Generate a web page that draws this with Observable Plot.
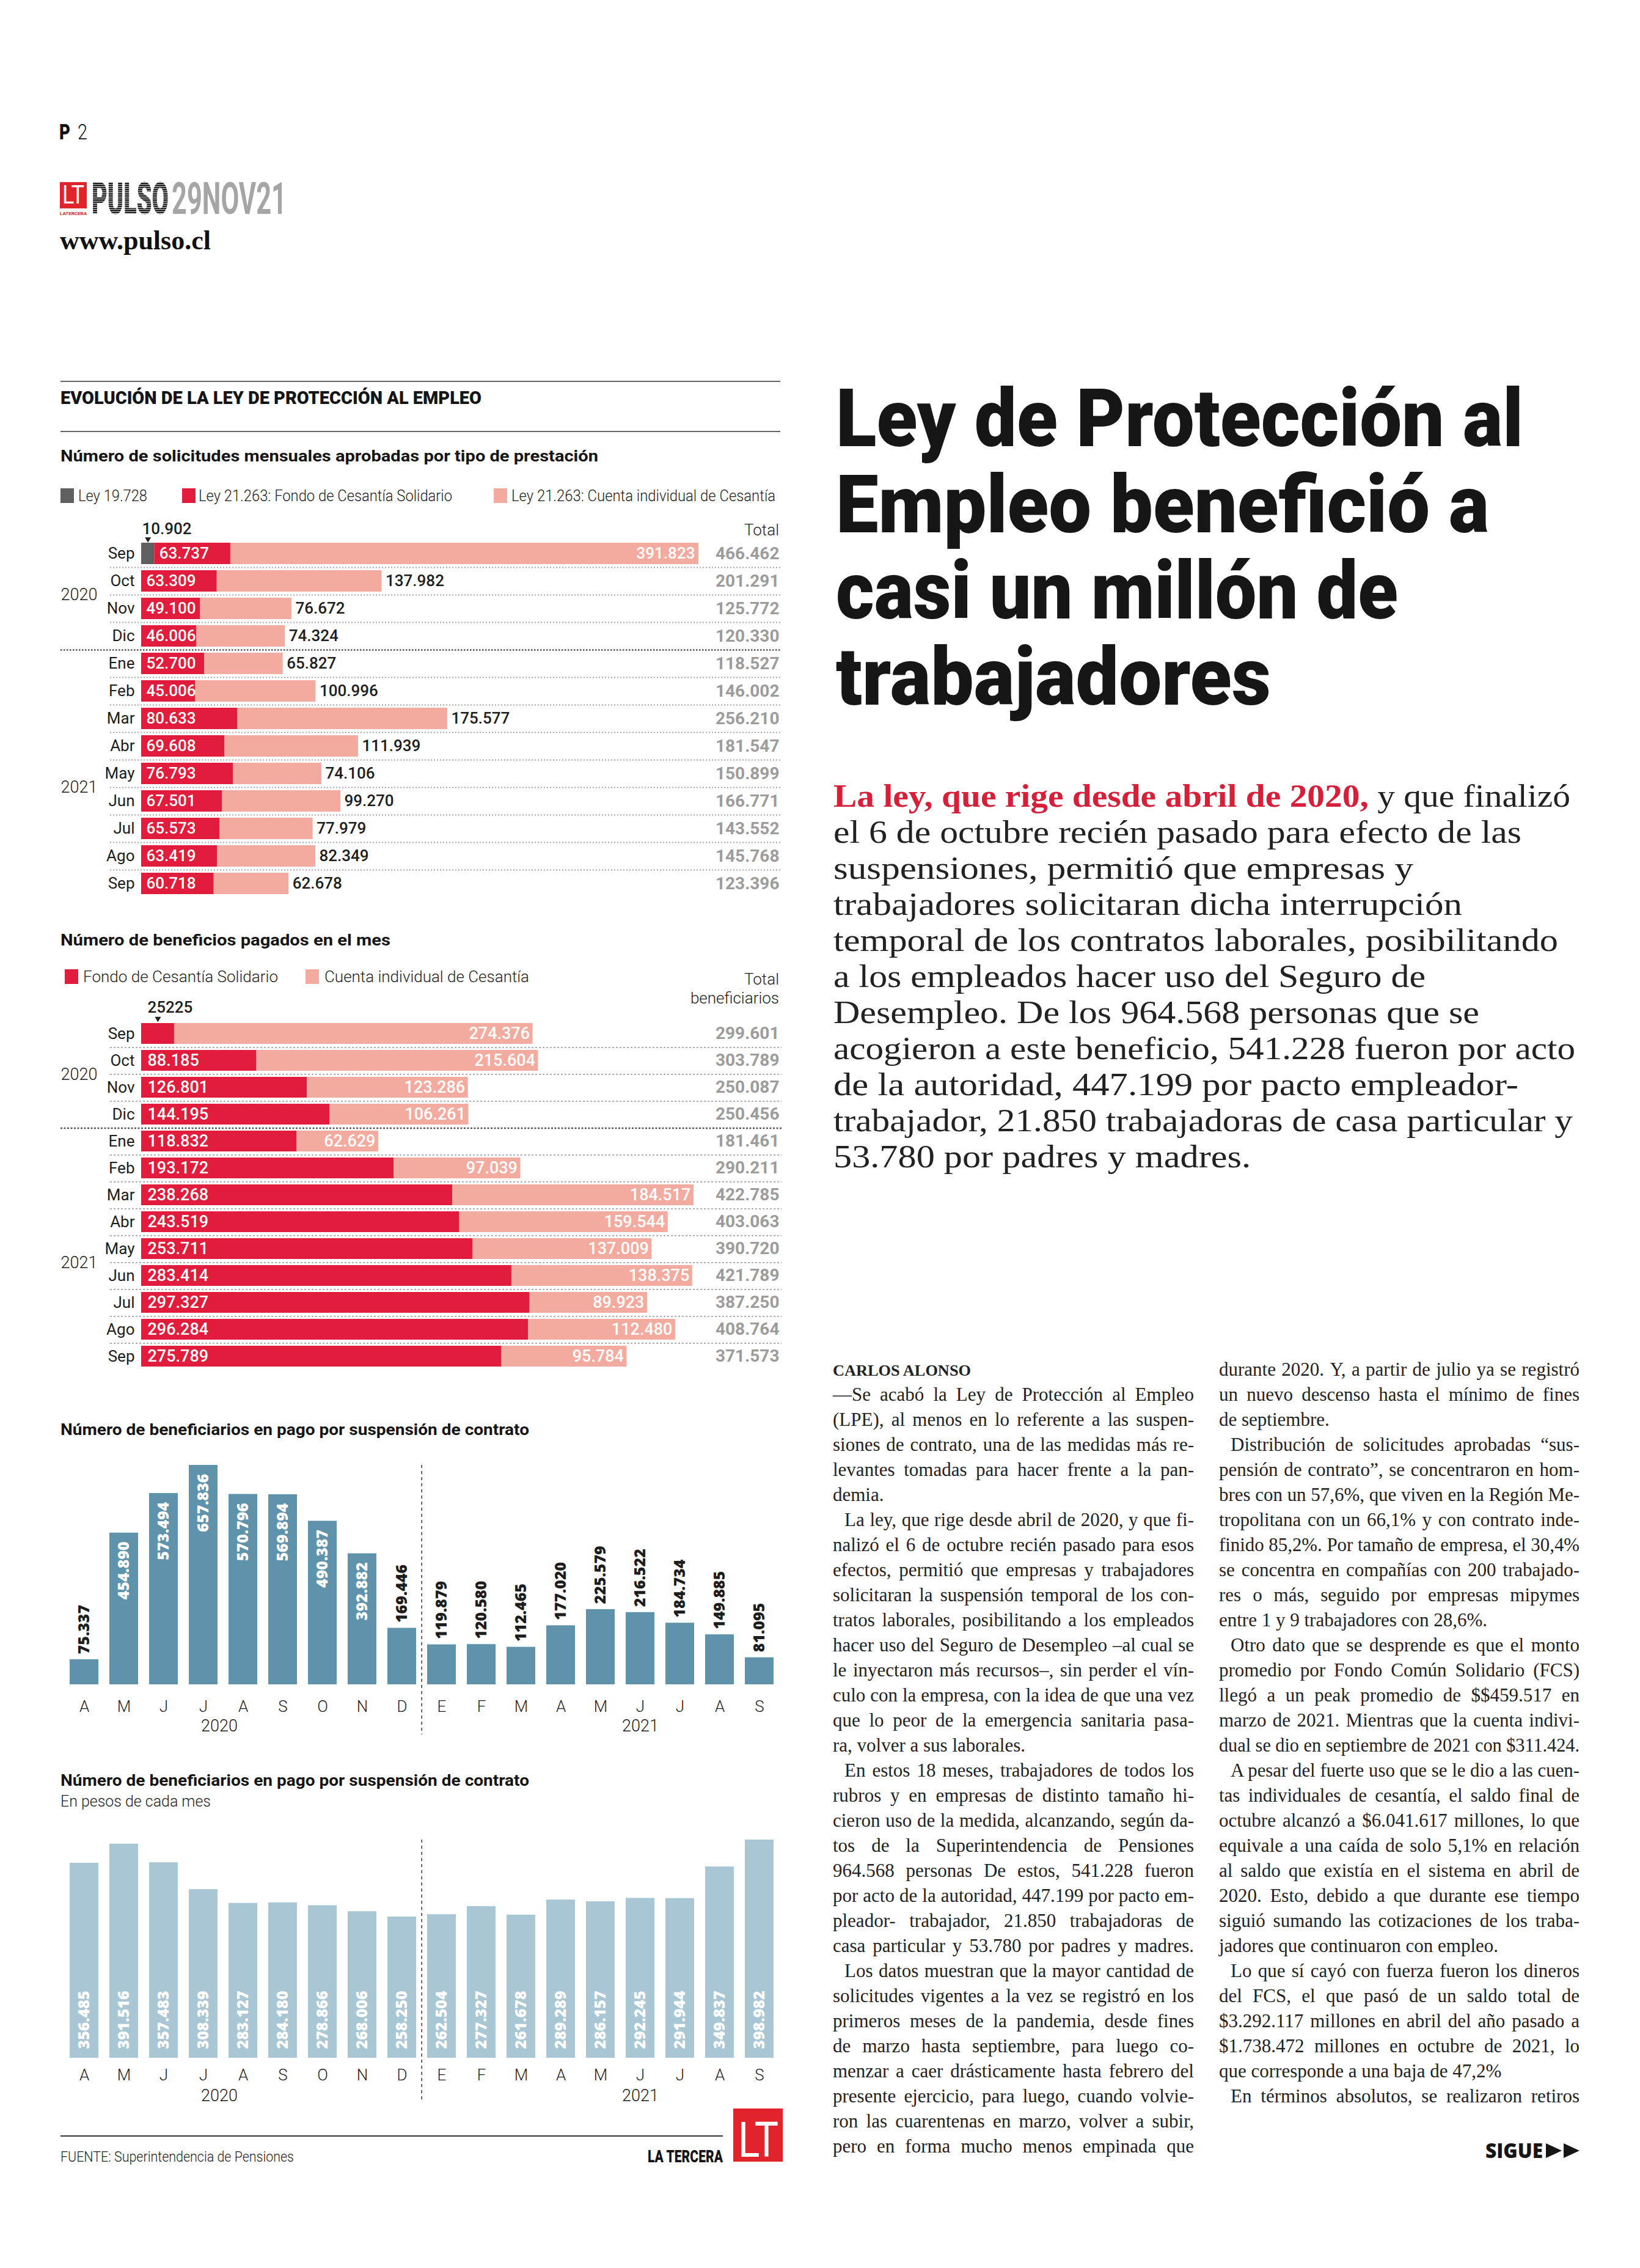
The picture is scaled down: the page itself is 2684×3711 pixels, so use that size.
<!DOCTYPE html>
<html lang="es">
<head>
<meta charset="utf-8">
<title>Ley de Protección al Empleo</title>
<script src="https://cdn.jsdelivr.net/npm/d3@7"></script>
<script src="https://cdn.jsdelivr.net/npm/@observablehq/plot@0.6"></script>
<style>
  html, body { margin: 0; padding: 0; background: #fff; }
  #page { position: relative; width: 2684px; height: 3711px; overflow: hidden; background: #fff; }
  #deco { position: absolute; left: 0; top: 0; }
  .chart { position: absolute; }
  .chart svg { overflow: visible; display: block; }
</style>
</head>
<body>
<div id="page">
  <svg id="deco" width="2684" height="3711" xmlns="http://www.w3.org/2000/svg"></svg>
</div>
<script>
// ===================== DATA =====================
// Chart A: solicitudes mensuales aprobadas por tipo de prestación
const monthsA = ["Sep","Oct","Nov","Dic","Ene","Feb","Mar","Abr","May","Jun","Jul","Ago","Sep"];
const yearsA  = ["2020","2020","2020","2020","2021","2021","2021","2021","2021","2021","2021","2021","2021"];
const seriesA = ["Ley 19.728", "Ley 21.263: Fondo de Cesantía Solidario", "Ley 21.263: Cuenta individual de Cesantía"];
const ley19728          = [10902, 0, 0, 0, 0, 0, 0, 0, 0, 0, 0, 0, 0];
const fondoSolicitudes  = [63737, 63309, 49100, 46006, 52700, 45006, 80633, 69608, 76793, 67501, 65573, 63419, 60718];
const cuentaSolicitudes = [391823, 137982, 76672, 74324, 65827, 100996, 175577, 111939, 74106, 99270, 77979, 82349, 62678];
const totalSolicitudes  = [466462, 201291, 125772, 120330, 118527, 146002, 256210, 181547, 150899, 166771, 143552, 145768, 123396];

// Chart B: beneficios pagados en el mes
const seriesB = ["Fondo de Cesantía Solidario", "Cuenta individual de Cesantía"];
const fondoBeneficios  = [25225, 88185, 126801, 144195, 118832, 193172, 238268, 243519, 253711, 283414, 297327, 296284, 275789];
const cuentaBeneficios = [274376, 215604, 123286, 106261, 62629, 97039, 184517, 159544, 137009, 138375, 89923, 112480, 95784];
const totalBeneficios  = [299601, 303789, 250087, 250456, 181461, 290211, 422785, 403063, 390720, 421789, 387250, 408764, 371573];

// Charts C and D: beneficiarios en pago por suspensión de contrato
const monthsC = ["A","M","J","J","A","S","O","N","D","E","F","M","A","M","J","J","A","S"];
const yearsC  = ["2020","2020","2020","2020","2020","2020","2020","2020","2020","2021","2021","2021","2021","2021","2021","2021","2021","2021"];
const beneficiarios = [75337, 454890, 573494, 657836, 570796, 569894, 490387, 392882, 169446, 119879, 120580, 112465, 177020, 225579, 216522, 184734, 149885, 81095];
const montos        = [356485, 391516, 357483, 308339, 283127, 284180, 278866, 268006, 258250, 262504, 277327, 261678, 289289, 286157, 292245, 291944, 349837, 398982];

// ===================== HELPERS =====================
const C = {red: "#e21c3c", pink: "#f4ab9f", grey: "#5f5f5f", total: "#9c9c9c", ink: "#1d1d1d",
           bar3: "#5f92ab", bar4: "#a9c6d5", logo: "#e1232b", lead: "#d71f3a"};
const fmt = d3.formatLocale({decimal: ",", thousands: ".", grouping: [3], currency: ["$", ""]}).format(",d");
const page = document.getElementById("page");
const deco = document.getElementById("deco");
const NS = "http://www.w3.org/2000/svg";
const baseStyle = {fontFamily: "Roboto, 'DejaVu Sans', sans-serif", fontSize: "26px", background: "transparent", color: C.ink, overflow: "visible"};
// downward-pointing triangle symbol for the small pointer arrows
const triangleDown = {
  draw(ctx, size) {
    const r = Math.sqrt(size / Math.PI);
    ctx.moveTo(-r, -r * 0.75);
    ctx.lineTo(r, -r * 0.75);
    ctx.lineTo(0, r * 0.95);
    ctx.closePath();
  }
};

function mk(tag, attrs, parent = deco) {
  const e = document.createElementNS(NS, tag);
  for (const k in attrs) e.setAttribute(k, attrs[k]);
  parent.appendChild(e);
  return e;
}
function T(str, x, y, o = {}) {
  const t = mk("text", {x, y, "font-family": o.ff || "Roboto", "font-size": o.fs || 26,
    "font-weight": o.fw || 400, fill: o.fill || C.ink}, o.parent || deco);
  if (o.anchor) t.setAttribute("text-anchor", o.anchor);
  t.textContent = str;
  if (o.len) { t.setAttribute("textLength", o.len); t.setAttribute("lengthAdjust", "spacingAndGlyphs"); }
  return t;
}
// text horizontally scaled with a transform so its box really has the target width
function TS(str, x, y, target, o = {}) {
  const g = mk("g", {});
  const t = T(str, 0, 0, {...o, parent: g});
  const w = t.getComputedTextLength() || target;
  g.setAttribute("transform", `translate(${x},${y}) scale(${target / w},1)`);
  return t;
}
function place(svg, left, top) {
  const d = document.createElement("div");
  d.className = "chart";
  d.style.left = left + "px";
  d.style.top = top + "px";
  d.appendChild(svg);
  page.appendChild(d);
}
function bandMargins(c1, step, n, p, top, height) {
  const mt = c1 - top - step * (1 + p) / 2;
  return {marginTop: mt, marginBottom: height - mt - step * (n + p)};
}

// ===================== CHART A =====================
{
  const L = {left: 99, width: 1180, top: 840, height: 640, barStart: 231, k: 1.955e-3, c1: 905, step: 45, p: 0.23, sepStart: 180};
  const rows = monthsA.map((m, i) => ({key: `${yearsA[i]}-${i}`, month: m, year: yearsA[i],
    ley: ley19728[i], fondo: fondoSolicitudes[i], cuenta: cuentaSolicitudes[i], total: totalSolicitudes[i]}));
  const long = rows.flatMap(r => [
    {key: r.key, serie: seriesA[0], value: r.ley},
    {key: r.key, serie: seriesA[1], value: r.fondo},
    {key: r.key, serie: seriesA[2], value: r.cuenta}]);
  const monthOf = new Map(rows.map(r => [r.key, r.month]));
  const yearAnn = [rows.find(r => r.year === "2020" && r.month === "Oct"), rows.find(r => r.year === "2021" && r.month === "May")];
  const m = bandMargins(L.c1, L.step, rows.length, L.p, L.top, L.height);
  const xDom = [-(L.barStart - L.left) / L.k, (L.left + L.width - L.barStart) / L.k];
  const sepX = -(L.barStart - L.sepStart) / L.k;
  const svg = Plot.plot({
    width: L.width, height: L.height, marginLeft: 0, marginRight: 0, ...m,
    style: baseStyle,
    x: {domain: xDom, axis: null},
    y: {domain: rows.map(d => d.key), padding: L.p},
    color: {domain: seriesA, range: [C.grey, C.red, C.pink]},
    marks: [
      Plot.ruleY(rows.slice(0, -1).filter(d => d.month !== "Dic"), {y: "key", dy: L.step / 2, x1: sepX, x2: xDom[1], stroke: "#a5a5a5", strokeWidth: 2, strokeDasharray: "2,3"}),
      Plot.ruleY(rows.filter(d => d.month === "Dic"), {y: "key", dy: L.step / 2, x1: xDom[0], x2: xDom[1], stroke: "#555", strokeWidth: 2.5, strokeDasharray: "2.5,2.5"}),
      Plot.barX(long, Plot.stackX({y: "key", x: "value", fill: "serie"})),
      Plot.text(rows, {y: "key", x: "ley", text: d => fmt(d.fondo), textAnchor: "start", dx: 8, fill: "white", fontWeight: 500}),
      Plot.text(rows.filter(d => d.cuenta > 300000), {y: "key", x: "total", text: d => fmt(d.cuenta), textAnchor: "end", dx: -6, fill: "white", fontWeight: 500}),
      Plot.text(rows.filter(d => d.cuenta <= 300000), {y: "key", x: "total", text: d => fmt(d.cuenta), textAnchor: "start", dx: 6, fill: C.ink, fontWeight: 500}),
      Plot.text(rows, {y: "key", frameAnchor: "right", text: d => fmt(d.total), textAnchor: "end", dx: -4, fill: C.total, fontWeight: 700, fontSize: 28}),
      Plot.text(rows.filter(d => d.ley > 0), {y: "key", x: 0, text: d => fmt(d.ley), textAnchor: "start", dx: 1, dy: -40, fill: C.ink, fontWeight: 500}),
      Plot.dot(rows.filter(d => d.ley > 0), {y: "key", x: d => d.ley / 2, symbol: triangleDown, r: 5, dy: -23, fill: C.ink, stroke: "none"}),
      Plot.text(yearAnn, {y: "key", frameAnchor: "left", text: "year", textAnchor: "start", dy: L.step / 2, fill: C.ink, fontWeight: 300, fontSize: 27}),
      Plot.axisY({tickSize: 0, tickPadding: 0, dx: L.barStart - L.left - 11, tickFormat: k => monthOf.get(k), fontSize: 26, color: C.ink, label: null})
    ]
  });
  place(svg, L.left, L.top);
}

// ===================== CHART B =====================
{
  const L = {left: 99, width: 1180, top: 1622, height: 640, barStart: 231, k: 2.138e-3, c1: 1686, step: 44.9, p: 0.23, sepStart: 180};
  const rows = monthsA.map((m, i) => ({key: `${yearsA[i]}-${i}`, month: m, year: yearsA[i],
    fondo: fondoBeneficios[i], cuenta: cuentaBeneficios[i], total: totalBeneficios[i]}));
  const long = rows.flatMap(r => [
    {key: r.key, serie: seriesB[0], value: r.fondo},
    {key: r.key, serie: seriesB[1], value: r.cuenta}]);
  const monthOf = new Map(rows.map(r => [r.key, r.month]));
  const yearAnn = [rows.find(r => r.year === "2020" && r.month === "Oct"), rows.find(r => r.year === "2021" && r.month === "May")];
  const m = bandMargins(L.c1, L.step, rows.length, L.p, L.top, L.height);
  const xDom = [-(L.barStart - L.left) / L.k, (L.left + L.width - L.barStart) / L.k];
  const sepX = -(L.barStart - L.sepStart) / L.k;
  const small = rows.filter(d => d.fondo < 50000);
  const svg = Plot.plot({
    width: L.width, height: L.height, marginLeft: 0, marginRight: 0, ...m,
    style: baseStyle,
    x: {domain: xDom, axis: null},
    y: {domain: rows.map(d => d.key), padding: L.p},
    color: {domain: seriesB, range: [C.red, C.pink]},
    marks: [
      Plot.ruleY(rows.slice(0, -1).filter(d => d.month !== "Dic"), {y: "key", dy: L.step / 2, x1: sepX, x2: xDom[1], stroke: "#a5a5a5", strokeWidth: 1.8, strokeDasharray: "3,3"}),
      Plot.ruleY(rows.filter(d => d.month === "Dic"), {y: "key", dy: L.step / 2, x1: xDom[0], x2: xDom[1], stroke: "#555", strokeWidth: 2.5, strokeDasharray: "3,2.5"}),
      Plot.barX(long, Plot.stackX({y: "key", x: "value", fill: "serie"})),
      Plot.text(rows.filter(d => d.fondo >= 50000), {y: "key", x: 0, text: d => fmt(d.fondo), textAnchor: "start", dx: 10, fill: "white", fontWeight: 500, fontSize: 27}),
      Plot.text(rows, {y: "key", x: "total", text: d => fmt(d.cuenta), textAnchor: "end", dx: -5, fill: "white", fontWeight: 500, fontSize: 27}),
      Plot.text(rows, {y: "key", frameAnchor: "right", text: d => fmt(d.total), textAnchor: "end", dx: -4, fill: C.total, fontWeight: 700, fontSize: 28}),
      Plot.text(small, {y: "key", x: 0, text: d => String(d.fondo), textAnchor: "start", dx: 10, dy: -43, fill: C.ink, fontWeight: 500}),
      Plot.dot(small, {y: "key", x: d => d.fondo / 2, symbol: triangleDown, r: 5, dy: -24, fill: C.ink, stroke: "none"}),
      Plot.text(yearAnn, {y: "key", frameAnchor: "left", text: "year", textAnchor: "start", dy: L.step / 2, fill: C.ink, fontWeight: 300, fontSize: 27}),
      Plot.axisY({tickSize: 0, tickPadding: 0, dx: L.barStart - L.left - 11, tickFormat: k => monthOf.get(k), fontSize: 26, color: C.ink, label: null})
    ]
  });
  place(svg, L.left, L.top);
}

// ===================== CHARTS C & D (vertical bars) =====================
function columnChart({values, L, color, labelMode, year2020dx}) {
  const rows = monthsC.map((m, i) => ({key: `${yearsC[i]}-${i}`, month: m, year: yearsC[i], value: values[i]}));
  const keys = rows.map(d => d.key);
  const monthOf = new Map(rows.map(r => [r.key, r.month]));
  const p = 1 - L.barW / L.step;
  const rangeStart = L.firstBarLeft - p * L.step;
  const rangeLen = L.step * (rows.length + p);
  const marginLeft = rangeStart - L.left;
  const marginRight = L.width - marginLeft - rangeLen;
  const height = L.bottom + 5 - L.top;
  const vmax = d3.max(values);
  const k = (L.base - L.topVal) / vmax;
  const yDom = [-(L.bottom - L.base) / k, vmax];
  const firstOf2021 = rows.find(r => r.year === "2021");
  const ann2020 = [rows[3]];                                   // julio 2020
  const ann2021 = [rows.find(r => r.year === "2021" && r.month === "J")];   // junio 2021
  const labelFont = {fontFamily: "'Open Sans', 'DejaVu Sans', sans-serif", fontWeight: 800, fontSize: 25};
  const labelMarks = labelMode === "top" ? [
    Plot.text(rows.filter(d => d.value > 300000), {x: "key", y: "value", text: d => fmt(d.value), rotate: -90, textAnchor: "end", dy: 14, fill: "white", ...labelFont}),
    Plot.text(rows.filter(d => d.value <= 300000), {x: "key", y: "value", text: d => fmt(d.value), rotate: -90, textAnchor: "start", dy: -9, fill: C.ink, ...labelFont})
  ] : [
    Plot.text(rows, {x: "key", y: () => 0, text: d => fmt(d.value), rotate: -90, textAnchor: "start", dy: -15, fill: "white", ...labelFont})
  ];
  const svg = Plot.plot({
    width: L.width, height, marginLeft, marginRight, marginTop: L.topVal - L.top, marginBottom: 5,
    style: baseStyle,
    x: {domain: keys, padding: p},
    y: {domain: yDom, axis: null},
    marks: [
      Plot.barY(rows, {x: "key", y: "value", fill: color}),
      Plot.ruleX([firstOf2021], {x: "key", dx: -L.step / 2, stroke: "#444", strokeWidth: 1.6, strokeDasharray: "5,5"}),
      ...labelMarks,
      Plot.axisX({tickSize: 0, tickPadding: 0, dy: L.monthDy, tickFormat: k => monthOf.get(k), fontSize: 26, fontWeight: 300, color: C.ink, label: null}),
      Plot.text(ann2020, {x: "key", frameAnchor: "bottom", text: "year", dx: year2020dx, dy: L.yearDy, fontSize: 27, fontWeight: 300, fill: C.ink}),
      Plot.text(ann2021, {x: "key", frameAnchor: "bottom", text: "year", dy: L.yearDy, fontSize: 27, fontWeight: 300, fill: C.ink})
    ]
  });
  place(svg, L.left, L.top);
}
columnChart({
  values: beneficiarios, color: C.bar3, labelMode: "top", year2020dx: 26,
  L: {left: 85, width: 1210, top: 2387, firstBarLeft: 109, step: 65.6, barW: 47.5, topVal: 2397, base: 2756, bottom: 2838, monthDy: -56, yearDy: -6}
});
columnChart({
  values: montos, color: C.bar4, labelMode: "bottom", year2020dx: 26,
  L: {left: 85, width: 1210, top: 3000, firstBarLeft: 109, step: 65.6, barW: 47.5, topVal: 3010, base: 3367, bottom: 3436, monthDy: -51, yearDy: 1}
});

// ===================== PAGE FURNITURE (titles, legends, article) =====================
// stripes pattern for PULSO logo
const defs = mk("defs", {});
const pat = mk("pattern", {id: "stripes", width: 8, height: 3.4, patternUnits: "userSpaceOnUse"}, defs);
mk("rect", {x: 0, y: 0, width: 8, height: 2.5, fill: "#161616"}, pat);
mk("rect", {x: 0, y: 2.5, width: 8, height: 0.9, fill: "#ffffff"}, pat);

// Folio
T("P", 97, 228, {fw: 900, fs: 35, len: 18, fill: "#111"});
T("2", 127, 228, {fw: 300, fs: 35, len: 16, fill: "#111"});
// Logo
mk("rect", {x: 98, y: 298, width: 44, height: 43, fill: C.logo});
T("LT", 102, 333, {fw: 400, fs: 42, len: 36, fill: "#fff"});
T("LATERCERA", 98, 352, {fw: 700, fs: 7, len: 44, fill: C.logo});
TS("PULSO", 150, 350, 126, {fw: 900, fs: 72, fill: "url(#stripes)"});
TS("29NOV21", 281, 350, 188, {fw: 700, fs: 72, fill: "#a5a5a5"});
T("www.pulso.cl", 98, 408, {ff: "Liberation Serif", fw: 700, fs: 44, len: 247, fill: "#111"});

// Infographic header
mk("line", {x1: 99, x2: 1277, y1: 624, y2: 624, stroke: "#666", "stroke-width": 2});
T("EVOLUCIÓN DE LA LEY DE PROTECCIÓN AL EMPLEO", 99, 661, {fw: 900, fs: 29, len: 689, fill: "#151515"});
mk("line", {x1: 99, x2: 1277, y1: 706, y2: 706, stroke: "#666", "stroke-width": 2});

// Chart A title and legend
T("Número de solicitudes mensuales aprobadas por tipo de prestación", 99, 755, {fw: 700, fs: 25, len: 880, fill: "#151515"});
const legA = [{x: 99, tx: 128, len: 113, c: C.grey}, {x: 298, tx: 325, len: 415, c: C.red}, {x: 808, tx: 837, len: 432, c: C.pink}];
seriesA.forEach((s, i) => {
  mk("rect", {x: legA[i].x, y: 799, width: 22, height: 24, fill: legA[i].c});
  T(s, legA[i].tx, 820, {fw: 300, fs: 26, len: legA[i].len});
});
T("Total", 1275, 876, {fw: 300, fs: 26, anchor: "end"});

// Chart B title and legend
T("Número de beneficios pagados en el mes", 99, 1547, {fw: 700, fs: 25, len: 540, fill: "#151515"});
const legB = [{x: 106, tx: 136, len: 319, c: C.red}, {x: 500, tx: 531, len: 335, c: C.pink}];
seriesB.forEach((s, i) => {
  mk("rect", {x: legB[i].x, y: 1586, width: 22, height: 24, fill: legB[i].c});
  T(s, legB[i].tx, 1607, {fw: 300, fs: 26, len: legB[i].len});
});
T("Total", 1275, 1611, {fw: 300, fs: 26, anchor: "end"});
T("beneficiarios", 1275, 1642, {fw: 300, fs: 26, anchor: "end"});

// Chart C / D titles
T("Número de beneficiarios en pago por suspensión de contrato", 99, 2348, {fw: 700, fs: 25, len: 767, fill: "#151515"});
T("Número de beneficiarios en pago por suspensión de contrato", 99, 2922, {fw: 700, fs: 25, len: 767, fill: "#151515"});
T("En pesos de cada mes", 99, 2956, {fw: 300, fs: 26, len: 246});

// Footer of infographic
mk("line", {x1: 99, x2: 1183, y1: 3495, y2: 3495, stroke: "#333", "stroke-width": 2});
T("FUENTE: Superintendencia de Pensiones", 99, 3537, {fw: 300, fs: 24, len: 382});
T("LA TERCERA", 1060, 3538, {fw: 900, fs: 27, len: 123, fill: "#151515"});
mk("rect", {x: 1200, y: 3450, width: 81, height: 87, fill: C.logo});
T("LT", 1208, 3529, {fw: 400, fs: 80, len: 66, fill: "#fff"});

// Headline
const headline = ["Ley de Protección al", "Empleo benefició a", "casi un millón de", "trabajadores"];
const headLen = [1125, 1069, 920, 712];
headline.forEach((s, i) => T(s, 1368, 730 + 141 * i, {fw: 900, fs: 132, len: headLen[i], fill: "#161616"}));

// Lead paragraph
const leadRest = [
  "el 6 de octubre recién pasado para efecto de las",
  "suspensiones, permitió que empresas y",
  "trabajadores solicitaran dicha interrupción",
  "temporal de los contratos laborales, posibilitando",
  "a los empleados hacer uso del Seguro de",
  "Desempleo. De los 964.568 personas que se",
  "acogieron a este beneficio, 541.228 fueron por acto",
  "de la autoridad, 447.199 por pacto empleador-",
  "trabajador, 21.850 trabajadoras de casa particular y",
  "53.780 por padres y madres."];
const leadLen = [1206, 1126, 949, 1029, 1186, 969, 1057, 1214, 1121, 1210, 683];
{
  const t = mk("text", {x: 1364, y: 1320, "font-family": "Liberation Serif", "font-size": 52, fill: "#222", style: "white-space:pre",
    textLength: leadLen[0], lengthAdjust: "spacingAndGlyphs"});
  const a = mk("tspan", {fill: C.lead, "font-weight": 700}, t); a.textContent = "La ley, que rige desde abril de 2020,";
  const b = mk("tspan", {}, t); b.textContent = " y que finalizó";
  leadRest.forEach((s, i) => T(s, 1364, 1320 + 59 * (i + 1), {ff: "Liberation Serif", fs: 52, len: leadLen[i + 1], fill: "#222"}));
}

// Body columns
const col1 = [
  "—Se acabó la Ley de Protección al Empleo",
  "(LPE), al menos en lo referente a las suspen-",
  "siones de contrato, una de las medidas más re-",
  "levantes tomadas para hacer frente a la pan-",
  "demia.|",
  "¶La ley, que rige desde abril de 2020, y que fi-",
  "nalizó el 6 de octubre recién pasado para esos",
  "efectos, permitió que empresas y trabajadores",
  "solicitaran la suspensión temporal de los con-",
  "tratos laborales, posibilitando a los empleados",
  "hacer uso del Seguro de Desempleo –al cual se",
  "le inyectaron más recursos–, sin perder el vín-",
  "culo con la empresa, con la idea de que una vez",
  "que lo peor de la emergencia sanitaria pasa-",
  "ra, volver a sus laborales.|",
  "¶En estos 18 meses, trabajadores de todos los",
  "rubros y en empresas de distinto tamaño hi-",
  "cieron uso de la medida, alcanzando, según da-",
  "tos de la Superintendencia de Pensiones",
  "964.568 personas De estos, 541.228 fueron",
  "por acto de la autoridad, 447.199 por pacto em-",
  "pleador- trabajador, 21.850 trabajadoras de",
  "casa particular y 53.780 por padres y madres.",
  "¶Los datos muestran que la mayor cantidad de",
  "solicitudes vigentes a la vez se registró en los",
  "primeros meses de la pandemia, desde fines",
  "de marzo hasta septiembre, para luego co-",
  "menzar a caer drásticamente hasta febrero del",
  "presente ejercicio, para luego, cuando volvie-",
  "ron las cuarentenas en marzo, volver a subir,",
  "pero en forma mucho menos empinada que"];
const col2 = [
  "durante 2020. Y, a partir de julio ya se registró",
  "un nuevo descenso hasta el mínimo de fines",
  "de septiembre.|",
  "¶Distribución de solicitudes aprobadas “sus-",
  "pensión de contrato”, se concentraron en hom-",
  "bres con un 57,6%, que viven en la Región Me-",
  "tropolitana con un 66,1% y con contrato inde-",
  "finido 85,2%. Por tamaño de empresa, el 30,4%",
  "se concentra en compañías con 200 trabajado-",
  "res o más, seguido por empresas mipymes",
  "entre 1 y 9 trabajadores con 28,6%.|",
  "¶Otro dato que se desprende es que el monto",
  "promedio por Fondo Común Solidario (FCS)",
  "llegó a un peak promedio de $$459.517 en",
  "marzo de 2021. Mientras que la cuenta indivi-",
  "dual se dio en septiembre de 2021 con $311.424.",
  "¶A pesar del fuerte uso que se le dio a las cuen-",
  "tas individuales de cesantía, el saldo final de",
  "octubre alcanzó a $6.041.617 millones, lo que",
  "equivale a una caída de solo 5,1% en relación",
  "al saldo que existía en el sistema en abril de",
  "2020. Esto, debido a que durante ese tiempo",
  "siguió sumando las cotizaciones de los traba-",
  "jadores que continuaron con empleo.|",
  "¶Lo que sí cayó con fuerza fueron los dineros",
  "del FCS, el que pasó de un saldo total de",
  "$3.292.117 millones en abril del año pasado a",
  "$1.738.472 millones en octubre de 2021, lo",
  "que corresponde a una baja de 47,2%|",
  "¶En términos absolutos, se realizaron retiros"];

function column(lines, x, W, y0, lh) {
  const o = {ff: "Liberation Serif", fs: 31, fill: "#222"};
  lines.forEach((raw, i) => {
    let s = raw, indent = 0, just = true;
    if (s.startsWith("¶")) { s = s.slice(1); indent = 19; }
    if (s.endsWith("|")) { s = s.slice(0, -1); just = false; }
    const y = y0 + i * lh;
    const t = T(s, x + indent, y, o);
    const avail = W - indent;
    const w = t.getComputedTextLength();
    if (w > avail) {
      t.setAttribute("textLength", avail);
      t.setAttribute("lengthAdjust", "spacingAndGlyphs");
    } else if (just) {
      const words = s.split(" ");
      if (words.length > 1) {
        const widths = words.map(wd => { t.textContent = wd; return t.getComputedTextLength(); });
        t.textContent = "";
        const gap = (avail - d3.sum(widths)) / (words.length - 1);
        let cx = x + indent;
        words.forEach((wd, j) => {
          const ts = mk("tspan", {x: cx.toFixed(2)}, t);
          ts.textContent = wd;
          cx += widths[j] + gap;
        });
      }
    }
  });
}
T("CARLOS ALONSO", 1363, 2251, {ff: "Liberation Serif", fw: 700, fs: 25, len: 226, fill: "#222"});
column(col1, 1363, 591, 2251 + 41, 41);
column(col2, 1995, 590, 2251, 41);

// SIGUE
T("SIGUE", 2431, 3531, {ff: "'Open Sans', 'DejaVu Sans'", fw: 800, fs: 33, len: 94, fill: "#161616"});
mk("polygon", {points: "2530,3507 2530,3531 2556,3519", fill: "#161616"});
mk("polygon", {points: "2559,3507 2559,3531 2585,3519", fill: "#161616"});
</script>
</body>
</html>
